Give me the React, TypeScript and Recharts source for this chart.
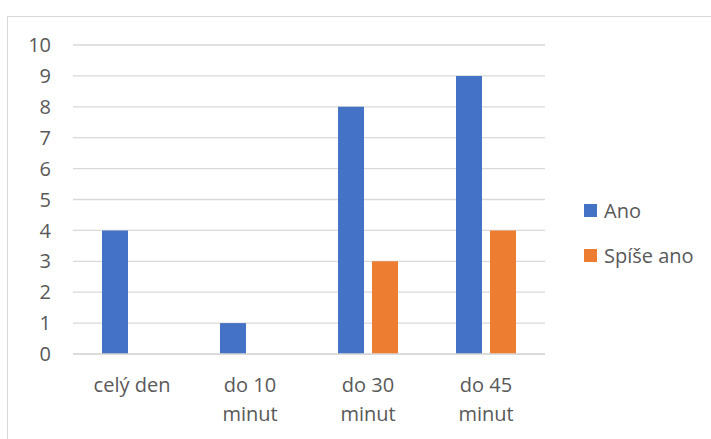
import { BarChart, Bar, XAxis, YAxis, CartesianGrid } from 'recharts';

const categories = ['celý den', 'do 10\nminut', 'do 30\nminut', 'do 45\nminut'];
const ano = [4, 1, 8, 9];
const spiseAno = [0, 0, 3, 4];
const yTicks = [0, 1, 2, 3, 4, 5, 6, 7, 8, 9, 10];

const series = [
  { key: 'ano', name: 'Ano', color: '#4472C4' },
  { key: 'spiseAno', name: 'Spíše ano', color: '#ED7D31' },
];

const data = categories.map((c, i) => ({ category: c, ano: ano[i], spiseAno: spiseAno[i] }));

const FONT = '"Open Sans", sans-serif';
const TEXT = '#595959';
const SIZE = 20;

function CategoryTick({ x, y, payload }: any) {
  const lines = String(payload.value).split('\n');
  return (
    <text x={x} y={y} textAnchor="middle" fill={TEXT} fontSize={SIZE} fontFamily={FONT}>
      {lines.map((line, i) => (
        <tspan key={i} x={x} dy={i === 0 ? 30 : 29}>
          {line}
        </tspan>
      ))}
    </text>
  );
}

export default function App() {
  return (
    <div style={{ position: 'fixed', left: 0, top: 0, width: 711, height: 439, overflow: 'hidden', background: '#fff' }}>
      <div
        style={{
          position: 'absolute',
          left: 7,
          top: 16,
          width: 800,
          height: 500,
          borderTop: '1.5px solid #d9d9d9',
          borderLeft: '1.5px solid #d9d9d9',
        }}
      />
      <div style={{ position: 'absolute', left: 0, top: 0 }}>
        <BarChart
          width={711}
          height={439}
          data={data}
          margin={{ top: 45, right: 166, bottom: 0, left: 0 }}
          barSize={26}
          barGap={8}
        >
          <CartesianGrid vertical={false} stroke="#d9d9d9" strokeWidth={1.3} />
          <XAxis
            dataKey="category"
            tick={<CategoryTick />}
            tickLine={false}
            axisLine={{ stroke: '#d9d9d9', strokeWidth: 1.3 }}
            interval={0}
            height={85}
          />
          <YAxis
            domain={[0, 10]}
            ticks={yTicks}
            width={73}
            tickLine={false}
            axisLine={false}
            tickSize={0}
            tickMargin={22}
            tick={{ fill: TEXT, fontSize: SIZE, fontFamily: FONT }}
          />
          {series.map((s) => (
            <Bar key={s.key} dataKey={s.key} name={s.name} fill={s.color} isAnimationActive={false} />
          ))}
        </BarChart>
      </div>
      <div style={{ position: 'absolute', left: 584, top: 197, fontFamily: FONT, fontSize: SIZE, color: TEXT }}>
        {series.map((s, i) => (
          <div key={s.key} style={{ display: 'flex', alignItems: 'center', height: 26, marginBottom: i === 0 ? 19 : 0 }}>
            <span style={{ width: 13, height: 13, background: s.color, display: 'inline-block', marginRight: 7 }} />
            <span>{s.name}</span>
          </div>
        ))}
      </div>
    </div>
  );
}
